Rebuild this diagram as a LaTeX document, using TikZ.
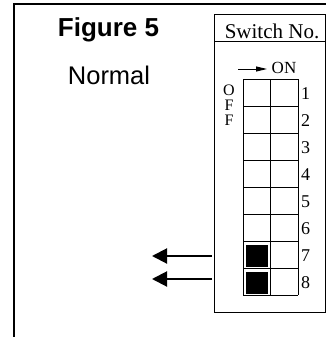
\documentclass[tikz,border=0pt]{standalone}
\usepackage{fontspec}
\setmainfont{Liberation Serif}
\newfontfamily\arialfont{Liberation Sans}
\usetikzlibrary{arrows.meta}
\begin{document}
\begin{tikzpicture}[x=1pt,y=-1pt,
  serifnum/.style={font=\fontsize{18}{18}\selectfont, inner sep=0pt, anchor=base},
  offletter/.style={font=\fontsize{16}{16}\selectfont, inner sep=0pt, anchor=base, text height=11pt, text depth=0pt},
  onlabel/.style={font=\fontsize{17}{17}\selectfont, inner sep=0pt, anchor=base},
  gridline/.style={line width=1pt},
  bigarrow/.style={line width=2pt, -{Triangle[length=15pt,width=15pt]}},
  onarrow/.style={line width=1pt, -{Triangle[length=11pt,width=5pt]}}]
\useasboundingbox (0,0) rectangle (326,337);
% outer frame
\draw[line width=2pt] (14,340) -- (14,4.5) -- (330,4.5);
% switch box
\draw[line width=1pt] (214,15) rectangle (325,312);
\draw[line width=1pt] (214,42) -- (325,42);
\node[font=\fontsize{21}{21}\selectfont, inner sep=0pt, anchor=base] (title) at (272,38) {Switch No.};
% grid
\foreach \i in {0,...,8} { \draw[gridline] (243,79+27*\i) -- (298,79+27*\i); }
\draw[gridline] (243,79) -- (243,295);
\draw[gridline] (270,79) -- (270,295);
\draw[gridline] (298,79) -- (298,295);
% filled switches
\fill[black] (246,244.5) rectangle (268,266.5);
\fill[black] (246,271.5) rectangle (268,293.5);
% numbers
\foreach \i in {1,...,8} {
  \node[serifnum] (n\i) at (305.5,{79+27*\i-13.5+7}) {\i};
}
% OFF
\node[offletter] (offO) at (229,95) {O};
\node[offletter] (offF1) at (229,110) {F};
\node[offletter] (offF2) at (229,125) {F};
% ON
\node[onlabel] (on) at (284,74) {ON};
\coordinate (ona) at (238,69);
\coordinate (onb) at (267,69);
\draw[onarrow] (ona) -- (onb);
% arrows
\coordinate (a7s) at (212,256);
\coordinate (a7e) at (152,256);
\coordinate (a8s) at (212,279);
\coordinate (a8e) at (152,279);
\draw[bigarrow] (a7s) -- (a7e);
\draw[bigarrow] (a8s) -- (a8e);
% titles
\node[font=\arialfont\bfseries\fontsize{26}{26}\selectfont, inner sep=0pt, anchor=base] (fig) at (108.5,37) {Figure 5};
\node[font=\arialfont\fontsize{25.5}{25.5}\selectfont, inner sep=0pt, anchor=base] (normal) at (109,84) {Normal};
\end{tikzpicture}
\end{document}
